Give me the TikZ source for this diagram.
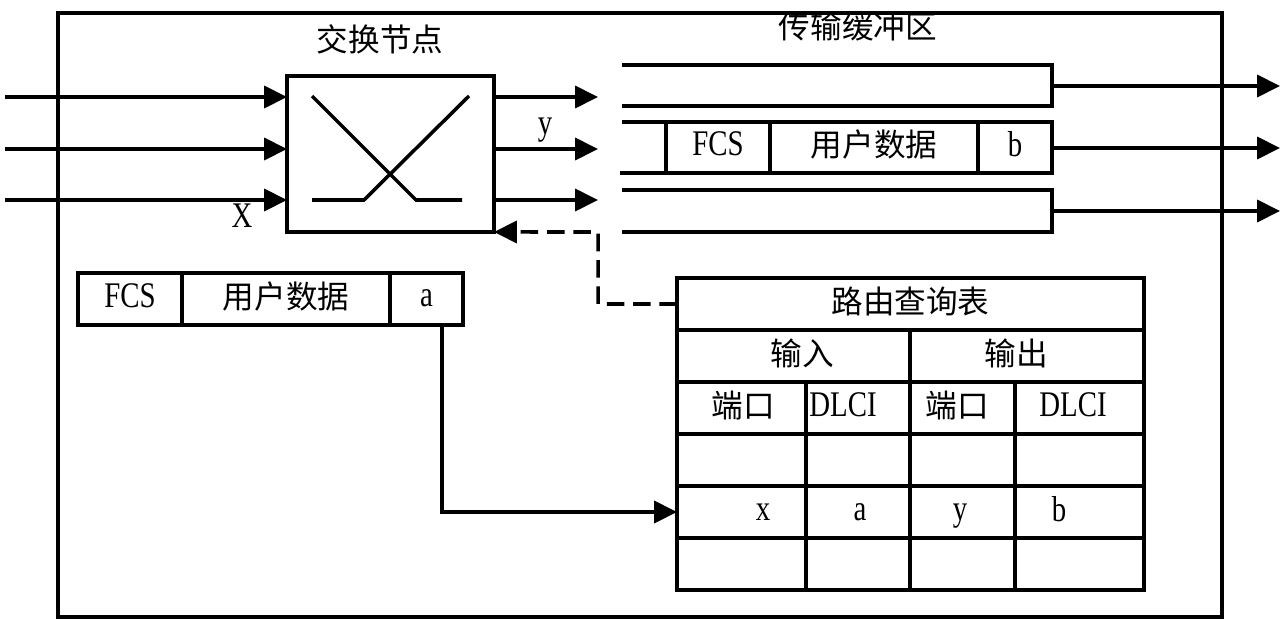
\documentclass[tikz,border=0pt]{standalone}
\usepackage{fontspec}
\setmainfont[FakeStretch=0.8, Scale=1.14]{Liberation Serif}
\newfontfamily\cjk{Noto Sans CJK SC}
\usetikzlibrary{arrows.meta}
\begin{document}
\begin{tikzpicture}[x=0.02cm, y=-0.02cm, line width=2pt,
  every node/.style={font=\fontsize{18}{20}\selectfont, inner sep=0pt, outer sep=0pt,
    execute at begin node=\vphantom{Xy}},
  arr/.style={-{Triangle[length=13pt,width=12.5pt]}},
  dsh/.style={dash pattern=on 10pt off 5pt},
  cell/.style={draw, minimum height=1.04cm},
  bcell/.style={draw, minimum height=1.02cm}]
\useasboundingbox (0,0) rectangle (1284,622);

% outer frame
\node[draw, minimum width=23.28cm, minimum height=12.08cm] (frame) at (640,315) {};

% switching node
\node[draw, minimum width=4.14cm, minimum height=3.12cm] (sw) at (390.5,154) {};
\draw (312,96) -- (416,200) -- (462,200);
\draw (469,96) -- (364,200) -- (312,200);
\node (swl) at (380,42) {\cjk 交换节点};
\node (lx) at (242,220) {X};
\node (ly) at (545,127) {y};

% inputs
\coordinate (i1) at (5,97);
\coordinate (i2) at (5,149);
\coordinate (i3) at (5,200);
\foreach \i in {i1,i2,i3} \draw[arr] (\i) -- (\i -| sw.west);

% outputs
\coordinate (o1) at (598,97);
\coordinate (o2) at (598,149);
\coordinate (o3) at (598,200);
\foreach \o in {o1,o2,o3} \draw[arr] (\o -| sw.east) -- (\o);

% transmission buffers
\node (bufl) at (858,29) {\cjk 传输缓冲区};
\draw (622,65) -- (1052,65) -- (1052,106) -- (622,106);
\coordinate (b1) at (1052,86);
\coordinate (e1) at (1280,86);
\draw[arr] (b1) -- (e1);

\node[bcell, minimum width=2.08cm] (cF) at (718,147.5) {FCS};
\node[bcell, minimum width=4.16cm] (cD) at (874,147.5) {\cjk 用户数据};
\node[bcell, minimum width=1.48cm] (cB) at (1015,147.5) {b};
\draw (622,122) -- (cF.north west);
\draw (620,173) -- (cF.south west);
\coordinate (e2) at (1280,148);
\draw[arr] (cB.east |- e2) -- (e2);

\draw (622,190) -- (1052,190) -- (1052,232) -- (622,232);
\coordinate (b3) at (1052,211);
\coordinate (e3) at (1280,211);
\draw[arr] (b3) -- (e3);

% incoming frame
\node[cell, minimum width=2.08cm] (aF) at (130,299) {FCS};
\node[cell, minimum width=4.16cm] (aD) at (286,299) {\cjk 用户数据};
\node[cell, minimum width=1.46cm] (aA) at (426.5,299) {a};

% routing table
\node[cell, minimum width=9.34cm] (t1) at (910.5,304) {\cjk 路由查询表};
\node[cell, minimum width=4.66cm] (t2a) at (793.5,356) {};
\node[cell, minimum width=4.68cm] (t2b) at (1027,356) {};
\node (t2at) at (802,356) {\cjk 输入};
\node (t2bt) at (1016,356) {\cjk 输出};
\foreach \r/\y in {3/408,4/460,5/512,6/564} {
  \node[cell, minimum width=2.58cm] (t\r1) at (741.5,\y) {};
  \node[cell, minimum width=2.08cm] (t\r2) at (858,\y) {};
  \node[cell, minimum width=2.10cm] (t\r3) at (962.5,\y) {};
  \node[cell, minimum width=2.58cm] (t\r4) at (1079.5,\y) {};
}
\node (h1) at (743,408) {\cjk 端口};
\node (h2) at (843,408) {DLCI};
\node (h3) at (957,408) {\cjk 端口};
\node (h4) at (1073,408) {DLCI};
\node (v1) at (763,513) {x};
\node (v2) at (860,513) {a};
\node (v3) at (960,513) {y};
\node (v4) at (1059,513) {b};

% connectors
\coordinate (ax) at (442,0);
\draw[arr] (aA.south -| ax) |- (t51.west);
\coordinate (dk) at (598,232);
\draw[arr, dsh] (t1.west) -| (dk) -- (sw.south east);
\end{tikzpicture}
\end{document}
